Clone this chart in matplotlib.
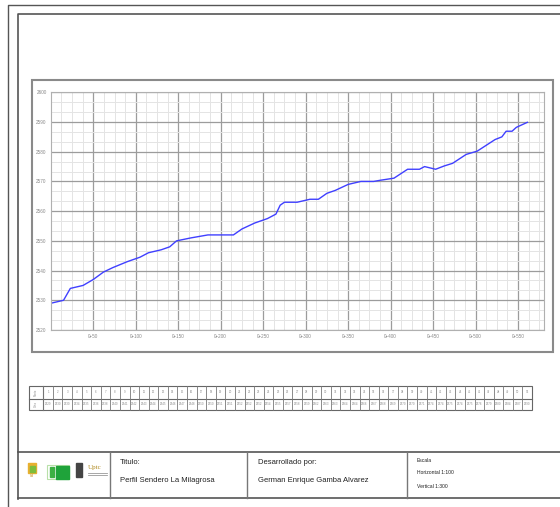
import numpy as np
import matplotlib.pyplot as plt
from matplotlib.patches import Rectangle

plt.rcParams['font.family'] = ['Liberation Sans', 'DejaVu Sans']

# perfil del sendero (abscisa en m, cota en m)
abscisa = [0, 15, 23, 38, 50, 62, 73, 90, 105, 115, 130, 140, 148, 165, 185,
           200, 215, 225, 240, 255, 265, 270, 275, 290, 305, 315, 325, 335,
           350, 365, 380, 388, 404, 420, 434, 440, 453, 463, 473, 489, 502,
           523, 531, 536, 543, 548, 561]
cota = [2529, 2530, 2534, 2535, 2537, 2539.5, 2541, 2543, 2544.5, 2546, 2547,
        2548, 2550, 2551, 2552, 2552, 2552, 2554, 2556, 2557.5, 2559, 2562,
        2563, 2563, 2564, 2564, 2566, 2567, 2569, 2570, 2570, 2570.4, 2571.1,
        2574.1, 2574.1, 2575, 2574.1, 2575.2, 2576.1, 2579.1, 2580.2, 2584.1,
        2585, 2586.9, 2586.9, 2588.2, 2589.9]

y_ticks = [2520, 2530, 2540, 2550, 2560, 2570, 2580, 2590, 2600]
x_ticks = [50, 100, 150, 200, 250, 300, 350, 400, 450, 500, 550]
x_labels = ['0+50', '0+100', '0+150', '0+200', '0+250', '0+300', '0+350',
            '0+400', '0+450', '0+500', '0+550']

# tabla inferior: numero de punto y cota
puntos = list(range(1, 52))
cota_tabla = [2529, 2530, 2530, 2534, 2535, 2536, 2538, 2540, 2541, 2542, 2543,
              2544, 2545, 2546, 2547, 2548, 2550, 2550, 2551, 2551, 2552, 2552,
              2552, 2554, 2555, 2557, 2558, 2559, 2562, 2563, 2563, 2564, 2564,
              2566, 2567, 2568, 2569, 2570, 2570, 2571, 2574, 2574, 2575, 2574,
              2575, 2576, 2579, 2580, 2584, 2587, 2590]

fig = plt.figure(figsize=(5.6, 5.07), dpi=100)
ov = fig.add_axes([0, 0, 1, 1])
ov.set_xlim(0, 560)
ov.set_ylim(507, 0)
ov.axis('off')

# marcos del plano
ov.plot([8, 8, 570], [520, 5, 5], color='#555555', lw=1)
ov.plot([18, 18, 570], [499, 14, 14], color='#555555', lw=1.2)
ov.add_patch(Rectangle((32, 80), 521, 272, fill=False, ec='#8a8a8a', lw=1.5))

# cajetin
ov.plot([18, 570], [452, 452], color='#555555', lw=1.2)
ov.plot([18, 570], [498, 498], color='#555555', lw=1.2)
for xd in [110, 247, 407]:
    ov.plot([xd, xd], [452, 498], color='#777777', lw=1)
ov.text(120, 463, 'Titulo:', fontsize=5.5, va='center', color='#222222')
ov.text(120, 480, 'Perfil Sendero La Milagrosa', fontsize=5.5, va='center', color='#222222')
ov.text(258, 463, 'Desarrollado por:', fontsize=5.5, va='center', color='#222222')
ov.text(258, 481, 'German Enrique Gamba Alvarez', fontsize=5.5, va='center', color='#222222')
ov.text(417, 461, 'Escala', fontsize=3.6, va='center', color='#222222')
ov.text(417, 473, 'Horizontal 1:100', fontsize=3.6, va='center', color='#222222')
ov.text(417, 486, 'Vertical 1:300', fontsize=3.6, va='center', color='#222222')

# logos (aproximados)
ov.add_patch(Rectangle((28, 463), 8, 10, color='#e8b030'))
ov.add_patch(Rectangle((30, 466), 5, 6, color='#7cbd3c'))
ov.text(32, 477, 'EIA', fontsize=1.8, ha='center', color='#c89020')
ov.add_patch(Rectangle((47, 465), 22, 14, fill=False, ec='#b8e0a8', lw=0.8))
ov.add_patch(Rectangle((50, 467), 4, 10, color='#3cb043'))
ov.add_patch(Rectangle((56, 466), 13, 13, color='#1fa33a'))
ov.add_patch(Rectangle((76, 463), 6, 14, color='#444444'))
ov.text(88, 468, 'Uptc', fontsize=5, color='#b08a20', va='center', family='Liberation Serif')
ov.plot([88, 107], [473, 473], color='#999999', lw=0.6)
ov.plot([88, 107], [475, 475], color='#999999', lw=0.6)

# tabla de cotas
x0, xh, x1 = 29, 43.3, 532
y0, ym, y1 = 386, 398.5, 410
n = len(puntos)
w = (x1 - xh) / n
ov.add_patch(Rectangle((x0, y0), x1 - x0, y1 - y0, fill=False, ec='#666666', lw=0.8))
ov.plot([x0, x1], [ym, ym], color='#666666', lw=0.8)
ov.plot([xh, xh], [y0, y1], color='#666666', lw=0.8)
ov.text((x0 + xh) / 2, (y0 + ym) / 2, 'Punto', fontsize=2, rotation=90,
        ha='center', va='center', color='#888888')
ov.text((x0 + xh) / 2, (ym + y1) / 2, 'Cota', fontsize=2, rotation=90,
        ha='center', va='center', color='#888888')
for i in range(n):
    xc = xh + i * w
    ov.plot([xc, xc], [y0, y1], color='#777777', lw=0.6)
    ov.text(xc + w / 2, (y0 + ym) / 2, str(puntos[i]), fontsize=2.1,
            ha='center', va='center', color='#888888')
    ov.text(xc + w / 2, (ym + y1) / 2, str(cota_tabla[i]), fontsize=2.1,
            ha='center', va='center', color='#888888')

# grafico del perfil
ax = fig.add_axes([50.8 / 560, (507 - 330) / 507, (543.5 - 50.8) / 560, (330 - 92.3) / 507])
ax.plot(abscisa, cota, color='#4040ff', lw=1)
ax.set_xlim(0, 580)
ax.set_ylim(2520, 2600)
ax.set_xticks(x_ticks)
ax.set_xticklabels(x_labels)
ax.set_yticks(y_ticks)
ax.set_xticks(np.arange(0, 581, 12.5), minor=True)
ax.set_yticks(np.arange(2520, 2600.1, 10 / 3), minor=True)
ax.grid(which='major', color='#9c9c9c', lw=0.9)
ax.grid(which='minor', color='#e4e4e4', lw=0.7)
ax.set_axisbelow(True)
ax.tick_params(which='both', length=0, labelsize=3.3, labelcolor='#888888', pad=3)
for s in ax.spines.values():
    s.set_color('#b0b0b0')
    s.set_linewidth(0.8)

fig.savefig('out.png', dpi=100)
